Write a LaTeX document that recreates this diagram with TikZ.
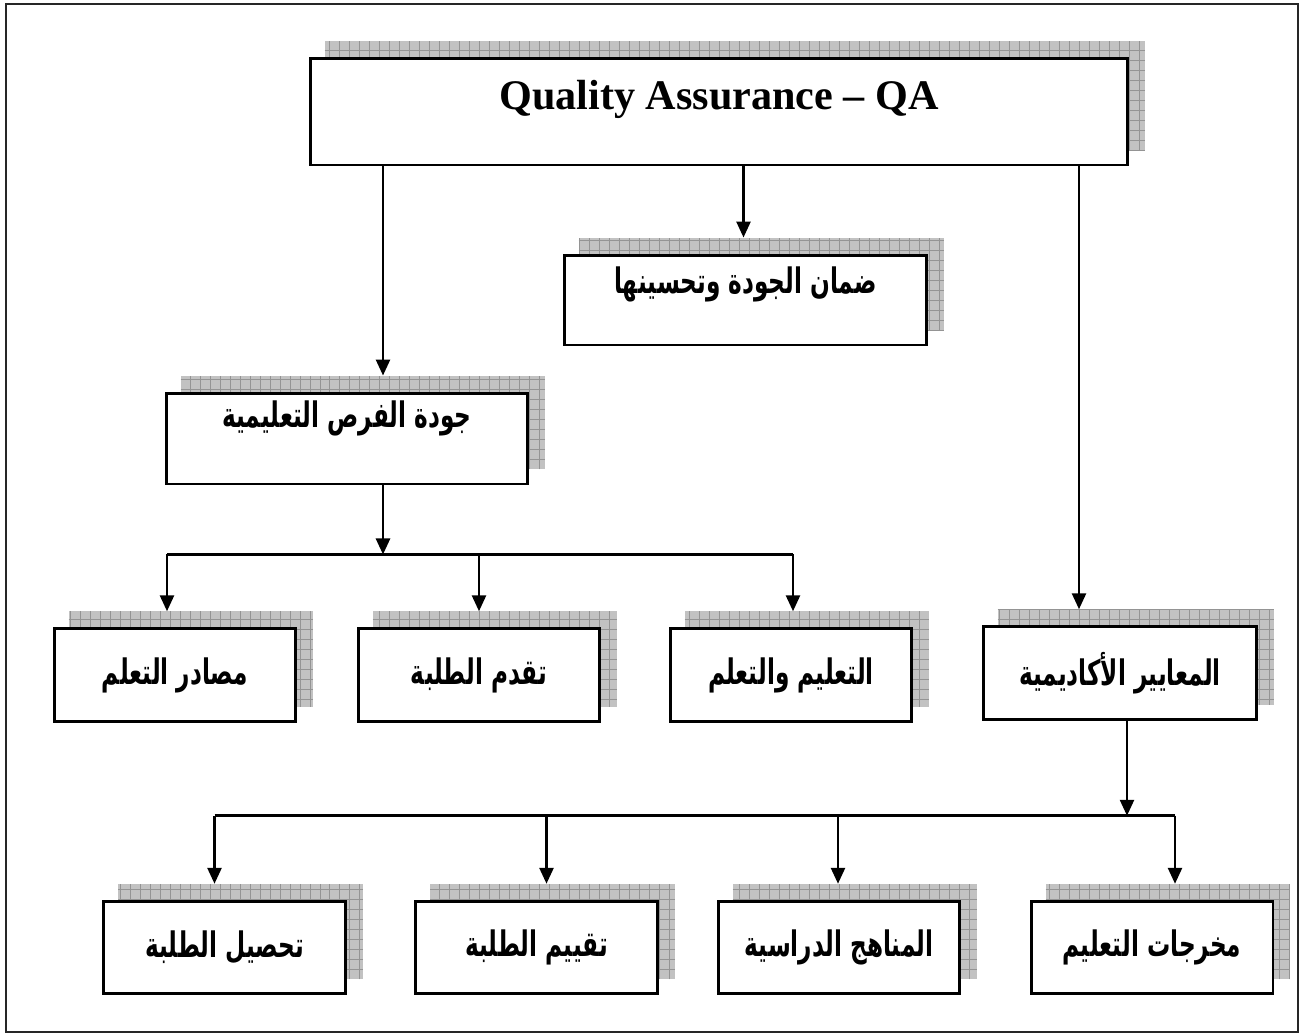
\documentclass[tikz,border=0pt]{standalone}
\usepackage{fontspec}
\setmainfont{Liberation Serif}
\newfontfamily\arabicfont[Script=Arabic,FakeStretch=0.66]{DejaVu Sans}
\TeXXeTstate=1
\usetikzlibrary{positioning,calc,backgrounds,arrows.meta}

\newcommand{\artext}[1]{{\arabicfont\bfseries\beginR #1\endR}}
% grey gridded shadow, shifted up and to the right of a box
\newcommand{\boxshadow}[1]{%
  \begin{scope}[on background layer]
    \path ($(#1.south west)+(16,-16)$) coordinate (shsw)
          ($(#1.north east)+(16,-16)$) coordinate (shne);
    \fill[shadowfill] (shsw) rectangle (shne);
    \begin{scope}
      \clip (shsw) rectangle (shne);
      \draw[shadowgrid, step=2mm] (shsw) grid (shne);
    \end{scope}
  \end{scope}}

\begin{document}
\begin{tikzpicture}[
        x=0.02cm, y=-0.02cm,
        every node/.style={font=\fontsize{20}{24}\selectfont},
        box/.style={draw, line width=1.7pt, fill=white, inner sep=0pt},
        leafbox/.style={box, minimum width=4.84cm, minimum height=1.85cm},
        arr/.style={-{Triangle[width=2.8mm,length=3.2mm]}, line width=1.5pt},
        bus/.style={line width=1.5pt},
        shadowfill/.style={fill=black!24},
        shadowgrid/.style={draw=black!42, line width=0.5pt},
    ]
        \useasboundingbox (0,0) rectangle (1301,1035);

        % --- page frame ---
        \draw[line width=1.2pt, black!85] (6,4) rectangle (1298,1032);

        % --- top box ---
        \node[box, minimum width=16.36cm, minimum height=2.14cm, text depth=0.66cm,
              font=\fontsize{24}{28}\selectfont\bfseries] (qa) at (719,111.5) {Quality Assurance -- QA};

        % --- second level ---
        \node[box, minimum width=7.26cm, minimum height=1.8cm, text depth=0.78cm] (damaan) at (745.5,300) {\artext{ضمان الجودة وتحسينها}};
        \node[box, minimum width=7.24cm, minimum height=1.82cm, text depth=0.98cm] (jawda) at (347,438.5) {\artext{جودة الفرص التعليمية}};
        \node[leafbox, minimum width=5.48cm] (maayir) at (1120,673) {\artext{المعايير الأكاديمية}};

        % --- learning opportunities ---
        \node[leafbox] (masadir) at (175,675) {\artext{مصادر التعلم}};
        \node[leafbox] (taqaddum) at (479,675) {\artext{تقدم الطلبة}};
        \node[leafbox] (taalim) at (791,675) {\artext{التعليم والتعلم}};

        % --- academic standards ---
        \node[leafbox] (tahsil) at (224.5,947.5) {\artext{تحصيل الطلبة}};
        \node[leafbox] (taqyim) at (536.5,947.5) {\artext{تقييم الطلبة}};
        \node[leafbox] (manahij) at (839,947.5) {\artext{المناهج الدراسية}};
        \node[leafbox] (makhrajat) at (1152,947.5) {\artext{مخرجات التعليم}};

        \foreach \n in {qa,damaan,jawda,maayir,masadir,taqaddum,taalim,tahsil,taqyim,manahij,makhrajat}
            {\boxshadow{\n}}

        % --- arrow ends (top of each shadow) ---
        \coordinate (jawdain) at ($(jawda.north)+(36,-16)$);
        \coordinate (damaanin) at ($(damaan.north)+(-2,-16)$);
        \coordinate (maayirin) at ($(maayir.north)+(-41,-16)$);
        \coordinate (masadirin) at ($(masadir.north)+(-8,-16)$);
        \coordinate (taqaddumin) at ($(taqaddum.north)+(0,-16)$);
        \coordinate (taalimin) at ($(taalim.north)+(2,-16)$);
        \coordinate (tahsilin) at ($(tahsil.north)+(-10,-16)$);
        \coordinate (taqyimin) at ($(taqyim.north)+(10,-16)$);
        \coordinate (manahijin) at ($(manahij.north)+(-1,-16)$);
        \coordinate (makhrajatin) at ($(makhrajat.north)+(23,-16)$);

        % --- buses ---
        \coordinate (busa) at ($(jawda.south)+(36,69)$);
        \coordinate (busb) at ($(maayir.south)+(7,95)$);

        % --- arrows ---
        \draw[arr] (qa.south -| jawdain) -- (jawdain);
        \draw[arr] (qa.south -| damaanin) -- (damaanin);
        \draw[arr] (qa.south -| maayirin) -- (maayirin);

        \draw[arr] (jawda.south -| busa) -- (busa);
        \draw[bus] (busa -| masadirin) -- (busa -| taalimin);
        \draw[arr] (busa -| masadirin) -- (masadirin);
        \draw[arr] (busa -| taqaddumin) -- (taqaddumin);
        \draw[arr] (busa -| taalimin) -- (taalimin);

        \draw[arr] (maayir.south -| busb) -- (busb);
        \draw[bus] (busb -| tahsilin) -- (busb -| makhrajatin);
        \draw[arr] (busb -| tahsilin) -- (tahsilin);
        \draw[arr] (busb -| taqyimin) -- (taqyimin);
        \draw[arr] (busb -| manahijin) -- (manahijin);
        \draw[arr] (busb -| makhrajatin) -- (makhrajatin);

    \end{tikzpicture}
\end{document}
